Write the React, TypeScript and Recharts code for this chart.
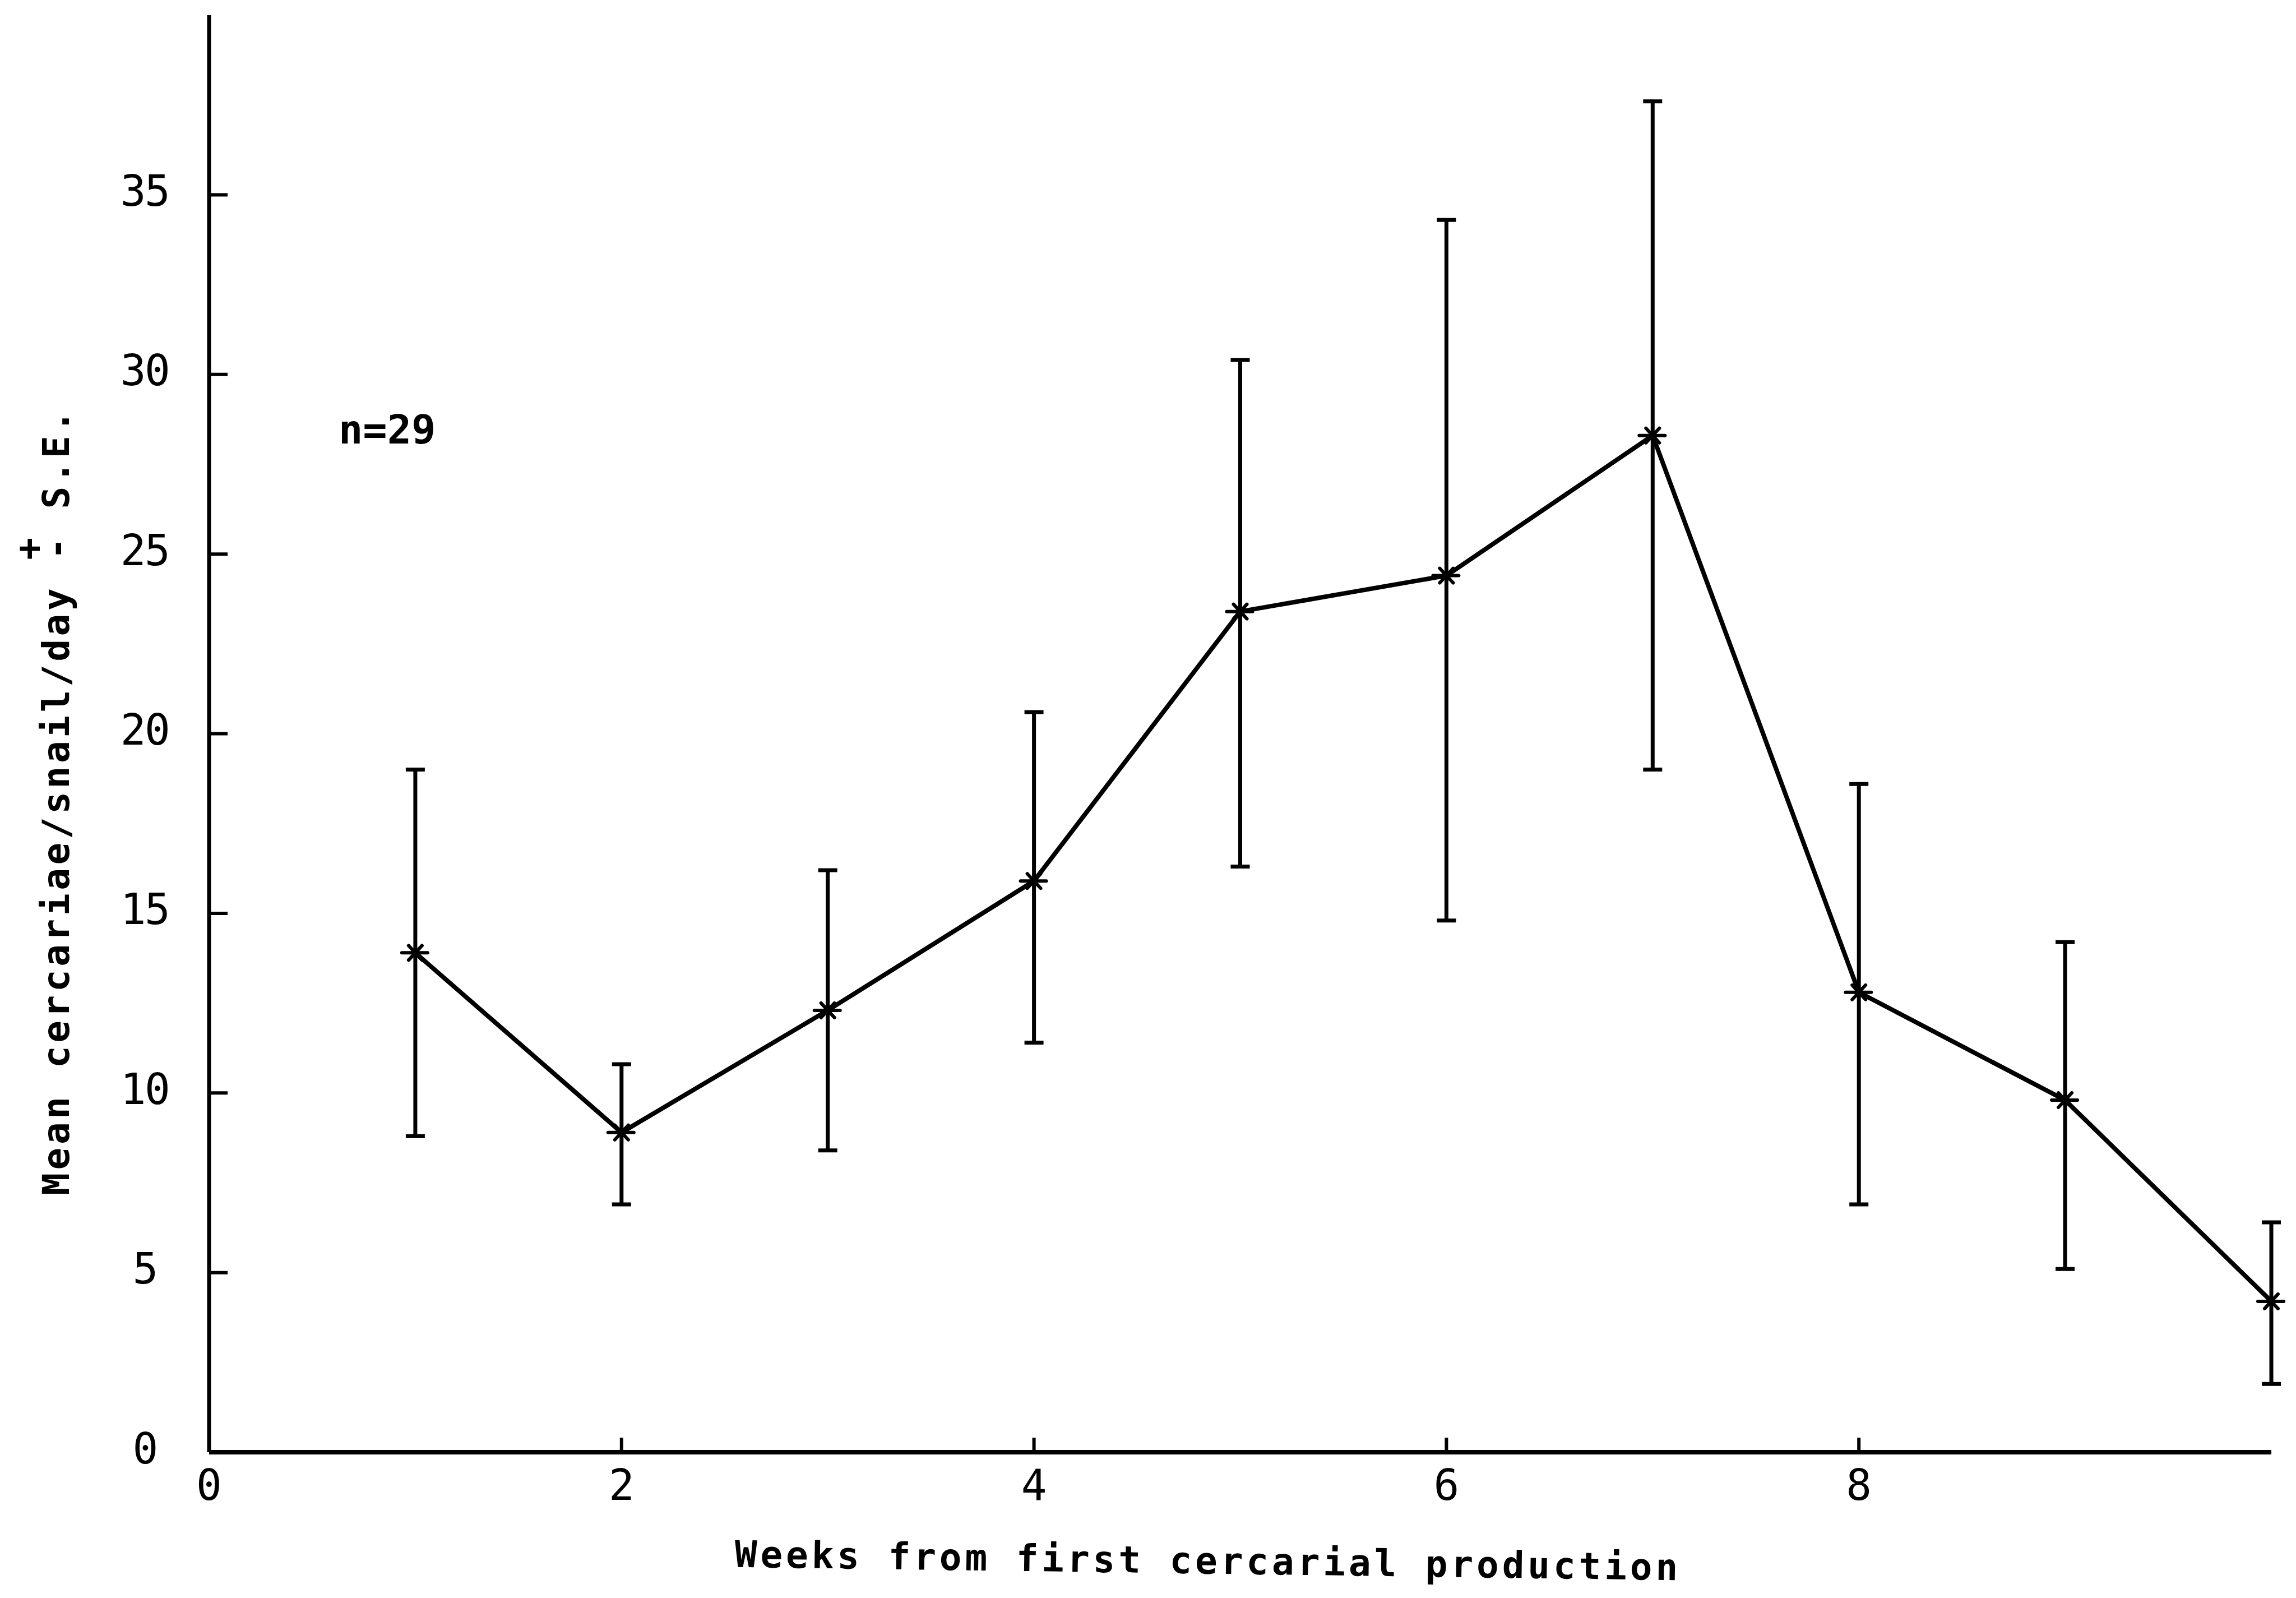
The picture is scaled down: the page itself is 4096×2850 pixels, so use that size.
import React from 'react';
import { LineChart, Line, XAxis, YAxis, ErrorBar, Label } from 'recharts';

// weekly cercarial output, mean with the upper / lower S.E. limits
const weeks = [1, 2, 3, 4, 5, 6, 7, 8, 9, 10];
const meanCercariae = [13.9, 8.9, 12.3, 15.9, 23.4, 24.4, 28.3, 12.8, 9.8, 4.2];
const upperSE = [19.0, 10.8, 16.2, 20.6, 30.4, 34.3, 37.6, 18.6, 14.2, 6.4];
const lowerSE = [8.8, 6.9, 8.4, 11.4, 16.3, 14.8, 19.0, 6.9, 5.1, 1.9];

const xTicks = [0, 2, 4, 6, 8];
const yTicks = [0, 5, 10, 15, 20, 25, 30, 35];

const data = weeks.map((week, i) => ({
  week,
  mean: meanCercariae[i],
  se: [meanCercariae[i] - lowerSE[i], upperSE[i] - meanCercariae[i]],
}));

const FONT = '"DejaVu Sans Mono", "Liberation Mono", monospace';
const W = 4096;
const H = 2850;
const margin = { top: 27, right: 44, bottom: 160, left: 0 };
const Y_AXIS_W = 373;
const X_AXIS_H = 100;

// title text: 66px mono stretched to a 45px typewriter pitch
const TITLE_SIZE = 66;
const TITLE_SPACING = 5.6;
const TITLE_PITCH = TITLE_SIZE * 0.6 + TITLE_SPACING;

// typed "*" marker, vertical stroke comes from the error bar
const StarDot = ({ cx, cy, index }: any) => {
  if (cx == null || cy == null) return null;
  return (
    <g key={`dot-${index}`} stroke="#000" strokeWidth={6} strokeLinecap="round">
      <line x1={cx - 24} y1={cy} x2={cx + 22} y2={cy} />
      <line x1={cx - 12} y1={cy - 13} x2={cx + 12} y2={cy + 13} />
      <line x1={cx - 12} y1={cy + 13} x2={cx + 12} y2={cy - 13} />
    </g>
  );
};

// ticks point inward, into the plot
const YTick = ({ x, y, payload }: any) => (
  <g>
    {payload.value > 0 && (
      <line x1={x} y1={y} x2={x + 33} y2={y} stroke="#000" strokeWidth={6} />
    )}
    <text
      x={x - 115}
      y={y - 7}
      textAnchor="middle"
      dominantBaseline="central"
      fontFamily={FONT}
      fontSize={76}
      letterSpacing={-2.6}
      fill="#000"
    >
      {payload.value}
    </text>
  </g>
);

const XTick = ({ x, y, payload }: any) => (
  <g>
    {payload.value > 0 && (
      <line x1={x} y1={y} x2={x} y2={y - 26} stroke="#000" strokeWidth={6} />
    )}
    <text
      x={x}
      y={y + 58}
      textAnchor="middle"
      dominantBaseline="central"
      fontFamily={FONT}
      fontSize={76}
      fill="#000"
    >
      {payload.value}
    </text>
  </g>
);

const XTitle = () => (
  <text
    x={2155}
    y={2784}
    textAnchor="middle"
    dominantBaseline="central"
    fontFamily={FONT}
    fontSize={TITLE_SIZE}
    fontWeight="bold"
    letterSpacing={5.9}
    fill="#000"
    transform="rotate(0.8, 2155, 2784)"
  >
    Weeks from first cercarial production
  </text>
);

const YTitle = () => (
  <g>
    <text
      x={100}
      y={1429}
      textAnchor="middle"
      dominantBaseline="central"
      fontFamily={FONT}
      fontSize={TITLE_SIZE}
      fontWeight="bold"
      letterSpacing={TITLE_SPACING}
      fill="#000"
      transform="rotate(-90, 100, 1429)"
    >
      Mean cercariae/snail/day{' '}
      <tspan dy={-49}>+</tspan>
      <tspan dx={-TITLE_PITCH} dy={49}>-</tspan>
      {' '}S.E.
    </text>
    <text
      x={604}
      y={766}
      dominantBaseline="central"
      fontFamily={FONT}
      fontSize={72}
      fontWeight="bold"
      fill="#000"
    >
      n=29
    </text>
  </g>
);

export default function App() {
  return (
    <div style={{ position: 'absolute', left: 0, top: 0, width: W, height: H, background: '#fff' }}>
      <LineChart width={W} height={H} data={data} margin={margin}>
        <XAxis
          type="number"
          dataKey="week"
          domain={[0, 10]}
          ticks={xTicks}
          interval={0}
          height={X_AXIS_H}
          axisLine={{ stroke: '#000', strokeWidth: 8 }}
          tickLine={false}
          tickSize={0}
          tickMargin={0}
          tick={<XTick />}
        >
          <Label content={<XTitle />} />
        </XAxis>
        <YAxis
          type="number"
          domain={[0, 40]}
          ticks={yTicks}
          interval={0}
          width={Y_AXIS_W}
          axisLine={{ stroke: '#000', strokeWidth: 7 }}
          tickLine={false}
          tickSize={0}
          tickMargin={0}
          tick={<YTick />}
        >
          <Label content={<YTitle />} />
        </YAxis>
        <Line
          type="linear"
          dataKey="mean"
          stroke="#000"
          strokeWidth={8}
          dot={StarDot}
          activeDot={false}
          isAnimationActive={false}
        >
          <ErrorBar
            dataKey="se"
            direction="y"
            width={17}
            stroke="#000"
            strokeWidth={7}
            isAnimationActive={false}
          />
        </Line>
      </LineChart>
    </div>
  );
}
